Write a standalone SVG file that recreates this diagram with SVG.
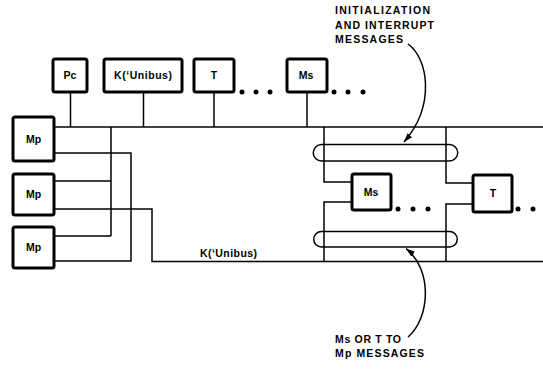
<svg xmlns="http://www.w3.org/2000/svg" width="543" height="370" viewBox="0 0 543 370">
<style>
.box{fill:#fff;stroke:#000;stroke-width:3;}
.lbl{font-family:"Liberation Sans",Arial,sans-serif;font-weight:bold;font-size:10.5px;fill:#000;text-anchor:middle;}
.note{font-family:"Liberation Sans",Arial,sans-serif;font-weight:bold;font-size:10.5px;fill:#000;}
.w{fill:none;stroke:#000;stroke-width:1.5;}
.dot{fill:#000;}
</style>
<defs>
<marker id="ah" markerWidth="10" markerHeight="8" refX="9" refY="4" orient="auto" markerUnits="userSpaceOnUse">
<path d="M0,1 L9,4 L0,7 Z" fill="#000"/>
</marker>
</defs>
<rect width="543" height="370" fill="#fff"/>
<g id="connectors" class="w">
<path d="M54,127 H543"/>
<path d="M70.5,92 V127"/>
<path d="M143.5,92 V127"/>
<path d="M214,92 V127"/>
<path d="M307,92 V127"/>
<path d="M111,127 V236 M54,181 H111 M54,236 H111"/>
<path d="M54,153 H131 V261 H54"/>
<path d="M54,209 H152 V261.5 H543"/>
<path d="M324,127 V182 H352"/>
<path d="M352,202 H324 V261.5"/>
<path d="M446,127 V183 H473"/>
<path d="M473,204 H446 V261.5"/>
<path d="M321.5,144.5 H449.5 A8.25,8.25 0 0 1 449.5,161 H321.5 A8.25,8.25 0 0 1 321.5,144.5 Z"/>
<path d="M321.5,231.5 H449.5 A7.75,7.75 0 0 1 449.5,247 H321.5 A7.75,7.75 0 0 1 321.5,231.5 Z"/>
<path d="M408,44 C428,58 436,105 404,142" marker-end="url(#ah)"/>
<path d="M408,337 C430,318 433,270 406,248.5" marker-end="url(#ah)"/>
</g>
<g id="pc"><rect class="box" x="53" y="59" width="34" height="33" rx="2"/><text class="lbl" x="70" y="79">Pc</text></g>
<g id="k-unibus-top"><rect class="box" x="104" y="59" width="78" height="33" rx="2"/><text class="lbl" x="143" y="79" textLength="58" lengthAdjust="spacing">K(‘Unibus)</text></g>
<g id="t-top"><rect class="box" x="194" y="59" width="40" height="33" rx="2"/><text class="lbl" x="214" y="79">T</text></g>
<g id="ms-top"><rect class="box" x="287" y="59" width="40" height="33" rx="2"/><text class="lbl" x="306" y="79">Ms</text></g>
<g id="dots-top" class="dot">
<circle cx="242" cy="92" r="2.5"/><circle cx="256" cy="92" r="2.5"/><circle cx="270" cy="92" r="2.5"/>
<circle cx="334" cy="92" r="2.5"/><circle cx="348" cy="92" r="2.5"/><circle cx="363" cy="92" r="2.5"/>
</g>
<g id="mp1"><rect class="box" x="13" y="117" width="41" height="44" rx="2"/><text class="lbl" x="33.5" y="143">Mp</text></g>
<g id="mp2"><rect class="box" x="13" y="174" width="41" height="41" rx="2"/><text class="lbl" x="33.5" y="198">Mp</text></g>
<g id="mp3"><rect class="box" x="13" y="227" width="41" height="41" rx="2"/><text class="lbl" x="33.5" y="251">Mp</text></g>
<g id="ms-mid"><rect class="box" x="352" y="174" width="39" height="36" rx="2"/><text class="lbl" x="371" y="195.5">Ms</text></g>
<g id="t-right"><rect class="box" x="473" y="175" width="39" height="37" rx="2"/><text class="lbl" x="493" y="197">T</text></g>
<g id="dots-mid" class="dot">
<circle cx="398" cy="209" r="2.5"/><circle cx="413" cy="209" r="2.5"/><circle cx="428" cy="209" r="2.5"/>
<circle cx="518" cy="209" r="2.5"/><circle cx="533" cy="209" r="2.5"/>
</g>
<g id="k-unibus-label"><text class="lbl" x="228.5" y="257" textLength="57" lengthAdjust="spacing">K(‘Unibus)</text></g>
<g id="note-top">
<text class="note" x="335" y="14" textLength="95" lengthAdjust="spacing">INITIALIZATION</text>
<text class="note" x="335" y="28.5" textLength="99" lengthAdjust="spacing">AND INTERRUPT</text>
<text class="note" x="335" y="43" textLength="68" lengthAdjust="spacing">MESSAGES</text>
</g>
<g id="note-bottom">
<text class="note" x="335" y="343" textLength="66" lengthAdjust="spacing">Ms OR T TO</text>
<text class="note" x="335" y="357" textLength="89" lengthAdjust="spacing">Mp MESSAGES</text>
</g>
</svg>
